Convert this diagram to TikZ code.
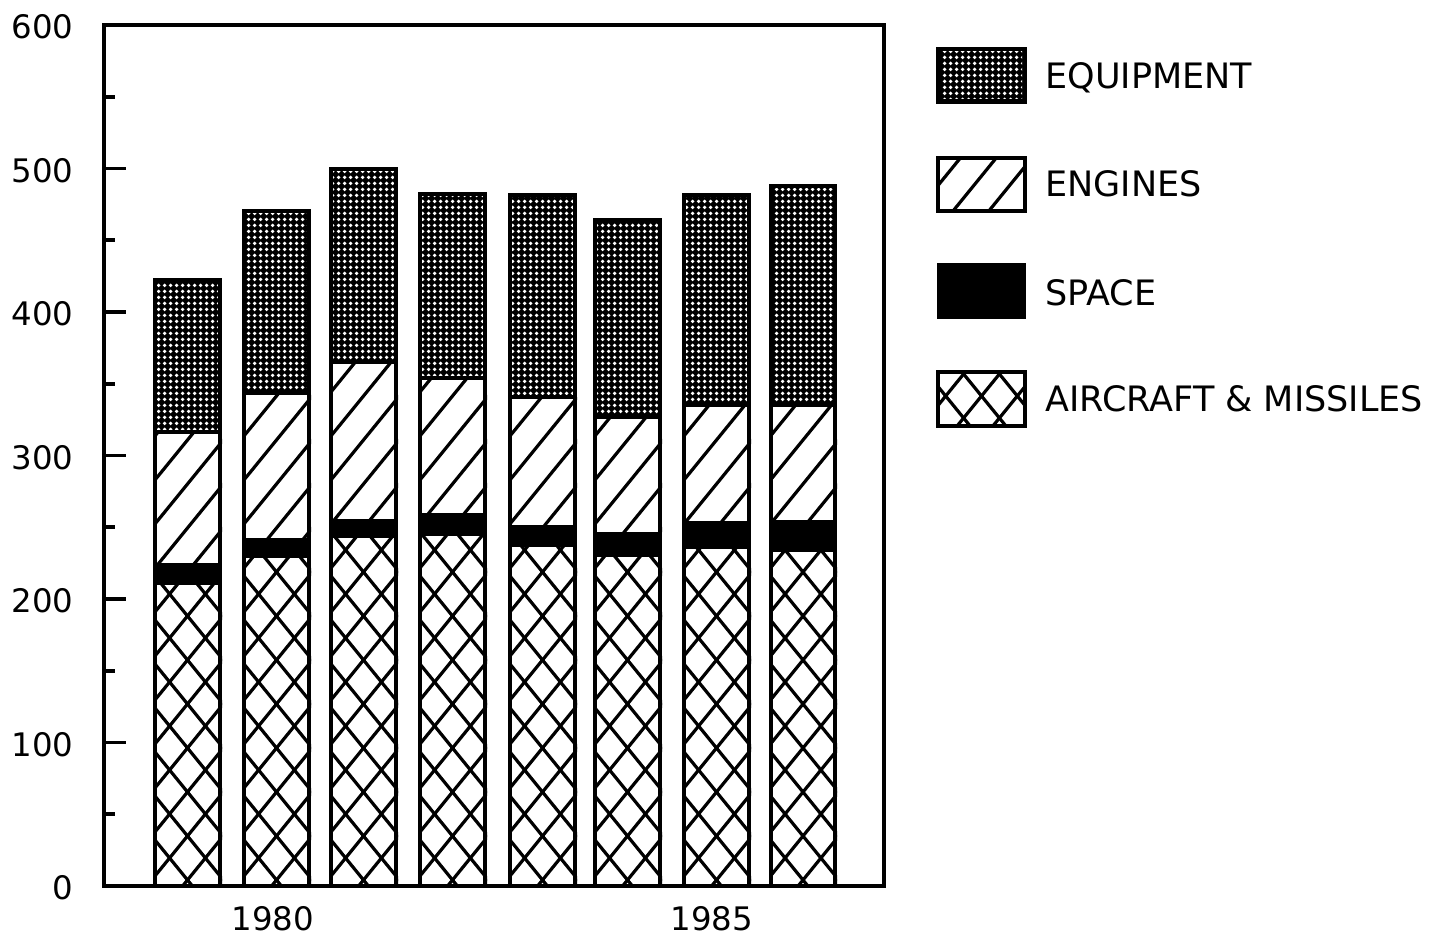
\documentclass[tikz,border=0pt]{standalone}
\usepackage{fontspec}
\setmainfont{DejaVu Sans}
\usetikzlibrary{patterns.meta}

\tikzdeclarepattern{
  name=wdots,
  type=uncolored,
  bounding box={(0pt,0pt) and (3pt,3pt)},
  tile size={(3pt,3pt)},
  code={\fill (1.5pt,1.5pt) circle [radius=1.1pt];}
}

\tikzset{
  outline/.style={draw=black, line width=2pt},
  hatchline/.style={line width=1.6pt},
  axisline/.style={line width=1.8pt},
  ticklab/.style={font=\fontsize{16.2}{17}\selectfont, anchor=east, inner sep=0pt},
  yearlab/.style={font=\fontsize{16.2}{17}\selectfont, inner sep=0pt},
  leglab/.style={font=\fontsize{17.5}{18}\selectfont, anchor=base west, inner sep=0pt},
}

% "/" hatch lines, anchored at the region's horizontal centre
\newcommand\slashfill[4]{%
  \begin{scope}
    \clip (#1,#2) rectangle (#3,#4);
    \pgfmathsetmacro\hxa{(#1+#3)/2}
    \pgfmathsetmacro\hhw{(#3-#1)/2+8}
    \pgfmathtruncatemacro\hkmin{floor(#2/44)-3}
    \pgfmathtruncatemacro\hkmax{floor(#4/44)+3}
    \foreach \hk in {\hkmin,...,\hkmax}{
      \draw[hatchline] ({\hxa-\hhw},{44*\hk+1.229*\hhw}) -- ({\hxa+\hhw},{44*\hk-1.229*\hhw});
    }
  \end{scope}}
% cross hatch
\newcommand\crossfill[4]{%
  \slashfill{#1}{#2}{#3}{#4}%
  \begin{scope}
    \clip (#1,#2) rectangle (#3,#4);
    \pgfmathsetmacro\hxa{(#1+#3)/2}
    \pgfmathsetmacro\hhw{(#3-#1)/2+8}
    \pgfmathtruncatemacro\hkmin{floor(#2/44)-3}
    \pgfmathtruncatemacro\hkmax{floor(#4/44)+3}
    \foreach \hk in {\hkmin,...,\hkmax}{
      \draw[hatchline] ({\hxa-\hhw},{44*\hk-1.229*\hhw}) -- ({\hxa+\hhw},{44*\hk+1.229*\hhw});
    }
  \end{scope}}

\begin{document}
\begin{tikzpicture}[x=0.5pt,y=-0.5pt]
\useasboundingbox (0,0) rectangle (1433,936);
\fill[white] (0,0) rectangle (1433,936);

% bars: xL/xR/top/equip-engines/engines-space/space-aircraft
\foreach \xl/\xr/\yt/\ye/\ys/\ya in {
  153/222/278/432/563/585,
  242/311/209/393/538/558,
  329/398/167/362/519/538,
  418/487/192/378/513/536,
  508/577/193/397/525/547,
  593/662/218/417/532/557,
  682/751/193/405/521/549,
  769/837/184/405/520/552}{
  \fill[black] (\xl,\yt) rectangle (\xr,\ye);
  \fill[pattern=wdots, pattern color=white] (\xl+4,\yt+4) rectangle (\xr-4,\ye-2);
  \slashfill{\xl}{\ye}{\xr}{\ys}
  \fill[black] (\xl,\ys) rectangle (\xr,\ya);
  \crossfill{\xl}{\ya}{\xr}{886}
  \draw[outline] (\xl+2,\yt+2) rectangle (\xr-2,886);
  \draw[outline] (\xl,\ye) -- (\xr,\ye);
}

% frame and ticks
\draw[axisline] (104,25) rectangle (884,886);
\foreach \v in {100,200,300,400,500}{
  \draw[axisline] (104,{886-1.435*\v}) -- (126,{886-1.435*\v});
}
\foreach \v in {50,150,250,350,450,550}{
  \draw[axisline] (104,{886-1.435*\v}) -- (115,{886-1.435*\v});
}
\foreach \v in {0,100,200,300,400,500,600}{
  \node[ticklab] (lab\v) at (74,{886-1.435*\v+2}) {\v};
}
\node[yearlab] (y1980) at (273,919) {1980};
\node[yearlab] (y1985) at (712,919) {1985};

% legend
\fill[black] (937,48) rectangle (1026,103);
\fill[pattern=wdots, pattern color=white] (941,52) rectangle (1022,99);
\draw[outline] (938,49) rectangle (1025,102);
\slashfill{937}{157}{1026}{212}
\draw[outline] (938,158) rectangle (1025,211);
\fill[black] (937,263) rectangle (1026,319);
\crossfill{937}{371}{1026}{427}
\draw[outline] (938,372) rectangle (1025,426);

\node[leglab] (leq) at (1045,89) {EQUIPMENT};
\node[leglab] (len) at (1045,197) {ENGINES};
\node[leglab] (lsp) at (1045,305) {SPACE};
\node[leglab] (lac) at (1045,411) {AIRCRAFT \& MISSILES};
\end{tikzpicture}
\end{document}
